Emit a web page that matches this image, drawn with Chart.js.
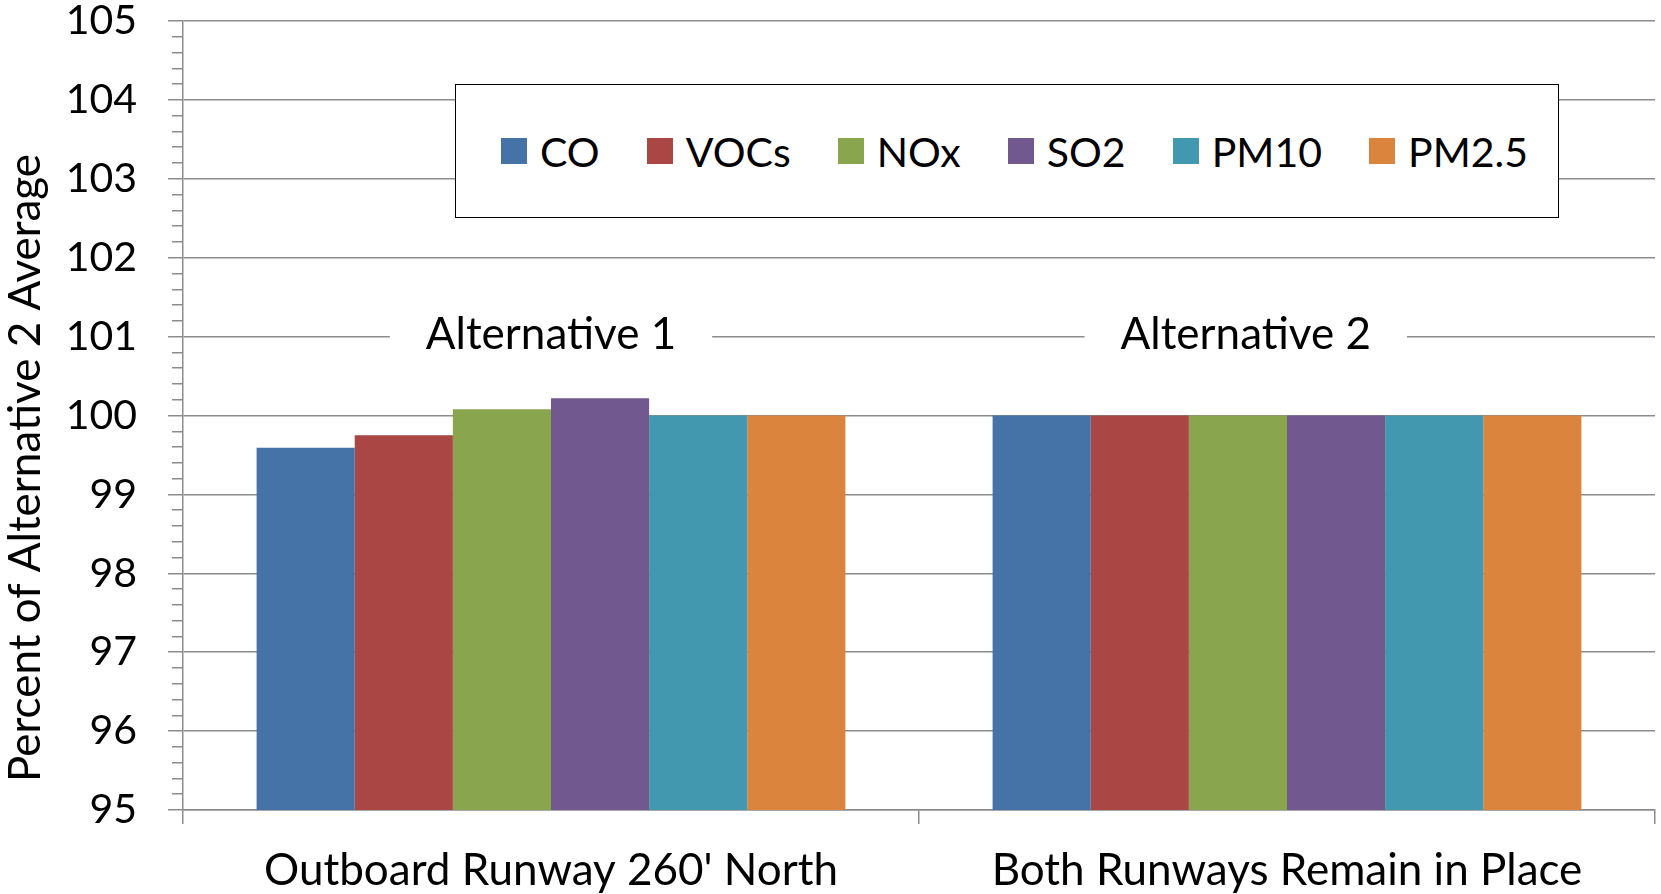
<!DOCTYPE html>
<html>
<head>
  <title>Percent of Alternative 2 Average</title>
  <script src="https://cdn.jsdelivr.net/npm/chart.js"></script>
  <style>
    body { margin:0; background:#fff; font-family:Lato, sans-serif; }
    #wrap { position:relative; width:1661px; height:894px; }
    #legend { position:absolute; left:455px; top:84px; width:1104px; height:134px; box-sizing:border-box;
              border:1.5px solid #000; background:#fff; display:flex; align-items:center;
              justify-content:space-between; padding:0 30px 0 45px; font-size:41px; color:#000; }
    #legend span.item { display:flex; align-items:center; white-space:nowrap; }
    #legend span.sw { display:inline-block; width:26px; height:26px; margin-right:13px; }
  </style>
</head>
<body>
  <div id="wrap">
    <canvas id="chart" width="1661" height="894"></canvas>
    <div id="legend"></div>
  </div>

  <script>
    const categories = ["Outboard Runway 260' North", 'Both Runways Remain in Place'];
    const pollutants = ['CO', 'VOCs', 'NOx', 'SO2', 'PM10', 'PM2.5'];
    const colors = ['#4572A7', '#AA4643', '#89A54E', '#71588F', '#4198AF', '#DB843D'];
    // one array per pollutant: [Alternative 1, Alternative 2]
    const coValues = [99.59, 100];
    const vocValues = [99.75, 100];
    const noxValues = [100.08, 100];
    const so2Values = [100.22, 100];
    const pm10Values = [100, 100];
    const pm25Values = [100, 100];
    const groupLabels = ['Alternative 1', 'Alternative 2'];
    const groupLabelAt = [0, 0.944];   // category position of each group label
    const groupLabelLevel = 101;       // sits on the 101 gridline
    const yTitle = 'Percent of Alternative 2 Average';

    const gridGray = '#8c8c8c';
    const font = 'Lato';

    const seriesValues = [coValues, vocValues, noxValues, so2Values, pm10Values, pm25Values];
    const isMajor = v => Math.abs(v - Math.round(v)) < 1e-6;

    // group labels on the gridline, plus the rotated y title
    const annotations = {
      id: 'annotations',
      afterDatasetsDraw(chart) {
        const { ctx, scales: { x, y } } = chart;
        ctx.save();
        ctx.font = '44px ' + font;
        ctx.textAlign = 'center';
        ctx.textBaseline = 'middle';
        groupLabels.forEach((t, i) => {
          const px = x.getPixelForValue(groupLabelAt[i]);
          const py = y.getPixelForValue(groupLabelLevel);
          const w = ctx.measureText(t).width + 72;
          ctx.fillStyle = '#fff';
          ctx.fillRect(px - w / 2, py - 5, w, 10);
          ctx.fillStyle = '#000';
          ctx.fillText(t, px, py - 2);
        });
        ctx.translate(26, 468);
        ctx.rotate(-Math.PI / 2);
        ctx.fillText(yTitle, 0, 0);
        ctx.restore();
      }
    };

    const chart = new Chart(document.getElementById('chart'), {
      type: 'bar',
      data: {
        labels: categories,
        datasets: pollutants.map((p, i) => ({
          label: p,
          data: seriesValues[i],
          backgroundColor: colors[i],
          borderWidth: 0
        }))
      },
      options: {
        responsive: false,
        animation: false,
        layout: { padding: { top: 21, right: 6, left: 0, bottom: 0 } },
        plugins: { legend: { display: false }, tooltip: { enabled: false } },
        datasets: { bar: { barPercentage: 1, categoryPercentage: 0.8 } },
        scales: {
          x: {
            grid: { offset: true, drawOnChartArea: false, tickLength: 14, color: gridGray, lineWidth: 1.5 },
            border: { color: gridGray, width: 1.5 },
            ticks: { color: '#000', font: { family: font, size: 44, lineHeight: 1 }, padding: 25, maxRotation: 0 },
            afterFit: s => { s.height = 84; }
          },
          y: {
            min: 95,
            max: 105,
            grid: {
              tickLength: 15,
              lineWidth: 1.5,
              color: c => isMajor(c.tick.value) ? gridGray : 'rgba(0,0,0,0)',
              tickColor: gridGray,
              tickBorderDash: c => isMajor(c.tick.value) ? [] : [0, 4, 11, 1000]
            },
            border: { color: gridGray, width: 1.5 },
            ticks: {
              stepSize: 0.2,
              autoSkip: false,
              color: '#000',
              padding: 31,
              font: { family: font, size: 41, lineHeight: 1 },
              callback: v => isMajor(v) ? String(Math.round(v)) : ''
            },
            afterFit: s => { s.width = 183; s.paddingTop = 0; s.paddingBottom = 0; }
          }
        }
      },
      plugins: [annotations]
    });

    // boxed legend drawn over the plot, built from the datasets
    const legend = document.getElementById('legend');
    chart.data.datasets.forEach(ds => {
      const item = document.createElement('span');
      item.className = 'item';
      const sw = document.createElement('span');
      sw.className = 'sw';
      sw.style.background = ds.backgroundColor;
      item.appendChild(sw);
      item.appendChild(document.createTextNode(ds.label));
      legend.appendChild(item);
    });
  </script>
</body>
</html>
